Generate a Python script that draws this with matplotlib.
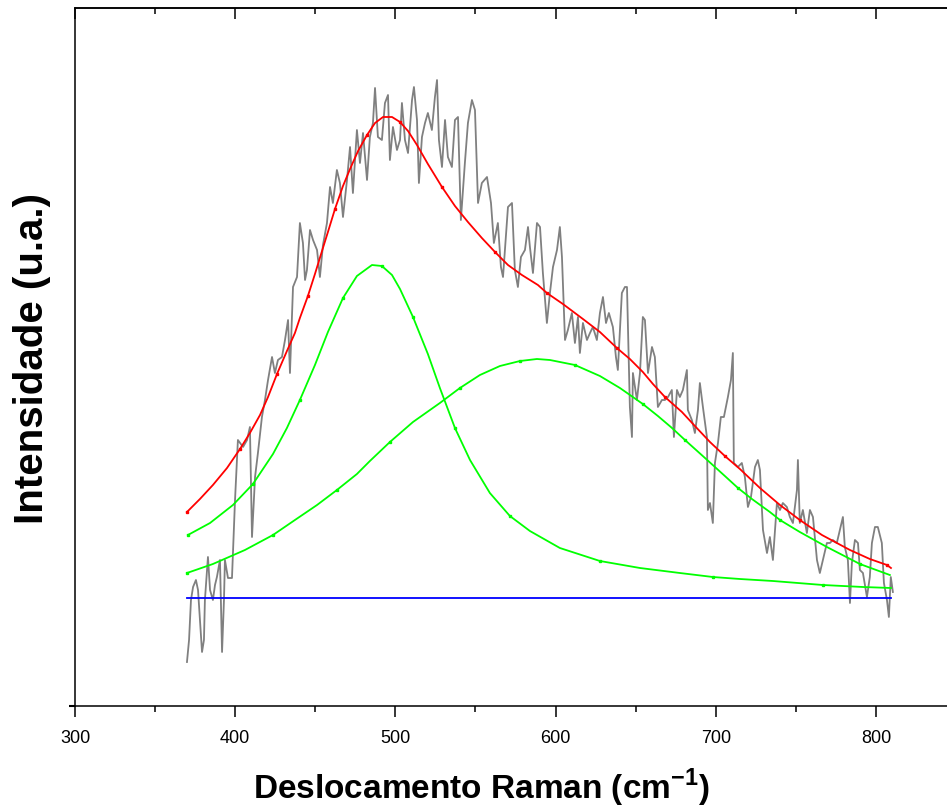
import matplotlib
matplotlib.use("Agg")
import matplotlib.pyplot as plt
from matplotlib.ticker import MultipleLocator

plt.rcParams['font.family'] = ['Liberation Sans', 'DejaVu Sans']
plt.rcParams['mathtext.fontset'] = 'custom'
plt.rcParams['mathtext.rm'] = 'Liberation Sans'
plt.rcParams['mathtext.bf'] = 'Liberation Sans:bold'

# measured spectrum (cm-1, a.u.)
raman_x = [369.9, 371.2, 372.4, 373.7, 375.5, 376.8, 378.0, 379.3, 380.5, 381.1,
           382.4, 383.0, 384.3, 386.1, 387.4, 388.6, 390.5, 391.8, 393.0, 393.6,
           395.5, 398.0, 399.9, 401.7, 404.9, 407.4, 409.2, 410.5, 412.4, 414.2,
           416.7, 418.6, 420.5, 423.0, 424.8, 426.7, 429.2, 431.1, 433.0, 434.2,
           436.1, 438.6, 440.4, 442.3, 443.6, 444.8, 446.7, 448.6, 451.1, 452.9,
           454.8, 457.3, 459.2, 461.0, 463.5, 465.4, 467.3, 469.8, 471.7, 473.5,
           476.0, 477.9, 479.8, 482.3, 484.1, 486.0, 487.3, 489.1, 491.6, 493.5,
           495.4, 496.6, 498.5, 501.0, 502.9, 504.1, 506.0, 507.9, 510.4, 511.6,
           513.5, 514.7, 516.6, 518.5, 520.3, 522.8, 524.7, 526.0, 527.2, 529.1,
           531.0, 532.8, 535.3, 537.2, 539.1, 540.9, 543.4, 545.3, 547.8, 549.7,
           551.6, 554.0, 557.2, 559.7, 561.5, 564.0, 565.9, 567.2, 570.3, 572.8,
           574.6, 576.5, 578.4, 580.9, 582.8, 584.0, 585.9, 588.4, 590.3, 592.1,
           594.6, 596.5, 598.4, 600.9, 602.7, 604.0, 605.9, 607.7, 610.2, 612.1,
           614.0, 615.2, 617.1, 619.6, 621.5, 623.3, 625.8, 627.7, 629.6, 631.5,
           633.3, 635.8, 637.7, 638.9, 641.4, 643.3, 644.6, 646.4, 647.7, 648.3,
           650.8, 652.7, 654.5, 655.8, 657.7, 660.2, 662.0, 663.9, 666.4, 668.3,
           670.2, 672.6, 673.9, 675.8, 677.6, 679.5, 682.0, 682.6, 685.1, 687.0,
           688.9, 690.1, 692.0, 694.5, 695.1, 696.4, 698.2, 699.5, 701.4, 703.2,
           705.1, 707.6, 709.5, 710.7, 711.3, 713.8, 716.3, 718.2, 720.1, 722.0,
           724.5, 726.3, 727.6, 729.5, 732.0, 733.8, 735.7, 738.2, 740.1, 741.9,
           744.4, 746.3, 748.2, 750.7, 751.3, 752.5, 754.4, 756.9, 758.8, 760.7,
           763.2, 765.0, 766.9, 769.4, 771.3, 773.1, 775.6, 777.5, 779.4, 780.6,
           782.5, 783.8, 785.0, 786.9, 788.8, 790.0, 791.9, 794.4, 796.2, 797.5,
           799.4, 801.2, 803.7, 805.0, 806.9, 808.1, 809.3, 810.6]
raman_y = [44, 66, 106, 119, 126, 116, 86, 54, 66, 106,
           136, 149, 116, 106, 121, 129, 146, 54, 106, 146,
           128, 128, 206, 266, 259, 266, 279, 169, 229, 253,
           289, 306, 326, 349, 333, 346, 349, 366, 386, 333,
           419, 429, 483, 463, 426, 436, 476, 466, 456, 429,
           461, 483, 519, 503, 536, 523, 489, 526, 559, 513,
           576, 543, 573, 526, 569, 583, 618, 569, 566, 603,
           611, 546, 579, 556, 566, 603, 566, 553, 606, 619,
           586, 523, 569, 583, 593, 576, 609, 626, 566, 539,
           586, 549, 539, 586, 589, 486, 543, 583, 606, 596,
           503, 523, 529, 503, 463, 483, 439, 429, 499, 503,
           436, 419, 449, 456, 479, 459, 433, 483, 479, 433,
           383, 413, 439, 456, 479, 449, 366, 376, 393, 363,
           389, 353, 383, 366, 373, 379, 366, 393, 409, 383,
           393, 379, 349, 336, 413, 419, 419, 299, 269, 333,
           306, 333, 389, 386, 333, 359, 349, 299, 306, 306,
           309, 316, 269, 316, 309, 316, 336, 296, 286, 273,
           296, 323, 299, 269, 196, 203, 183, 243, 263, 289,
           289, 309, 326, 353, 243, 239, 243, 229, 199, 209,
           239, 246, 236, 176, 153, 169, 146, 203, 196, 203,
           199, 189, 183, 216, 246, 183, 196, 173, 196, 189,
           146, 133, 146, 163, 163, 166, 163, 176, 189, 159,
           146, 103, 143, 166, 163, 136, 133, 109, 129, 163,
           179, 179, 163, 123, 106, 89, 129, 114]

# cumulative fit
fit_x = [369.9, 378.0, 386.1, 394.9, 403.0, 409.2, 415.5, 420.5, 426.1, 432.3,
         437.3, 440.4, 445.4, 449.8, 454.2, 457.9, 462.3, 467.3, 471.7, 476.7,
         482.3, 487.3, 492.3, 497.9, 502.9, 507.9, 513.5, 520.3, 529.1, 537.2,
         545.3, 554.0, 562.2, 570.3, 579.0, 589.0, 594.6, 604.6, 617.1, 627.7,
         638.3, 646.4, 654.5, 660.8, 668.3, 678.9, 687.0, 696.4, 705.7, 715.1,
         727.6, 740.1, 752.5, 766.3, 783.8, 796.2, 806.9, 809.4]
fit_y = [194, 207, 221, 238, 257, 273, 291, 309, 332, 355,
         373, 388, 410, 432, 455, 474, 497, 520, 537, 555,
         571, 583, 589, 589, 584, 575, 561, 542, 519, 500,
         484, 468, 454, 441, 431, 421, 413, 402, 387, 374,
         358, 347, 334, 322, 309, 294, 280, 264, 250, 237,
         218, 201, 186, 171, 156, 147, 141, 138]

# component peak 1
peak1_x = [370.5, 384.3, 398.6, 411.1, 423.6, 432.3, 440.4, 449.8, 457.9, 467.3,
           476.0, 485.4, 491.6, 497.9, 502.9, 511.0, 520.3, 527.8, 537.2, 546.6,
           559.0, 571.5, 584.0, 602.7, 627.7, 652.7, 677.6, 698.2, 715.1, 735.7,
           766.9, 791.9, 809.4]
peak1_y = [171, 183, 201, 222, 252, 278, 306, 341, 374, 408,
           430, 441, 440, 431, 417, 389, 352, 318, 278, 246,
           213, 190, 175, 158, 145, 138, 133, 129, 127, 125,
           121, 119, 118]

# component peak 2
peak2_x = [369.9, 386.1, 406.1, 423.6, 437.3, 451.1, 463.5, 476.0, 484.1, 496.6,
           511.0, 527.8, 540.3, 552.8, 565.3, 577.8, 588.4, 596.5, 612.1, 627.7,
           640.2, 654.5, 663.9, 672.7, 680.8, 693.3, 705.7, 713.9, 722.6, 733.8,
           740.1, 752.5, 769.4, 790.0, 808.7]
peak2_y = [133, 142, 156, 171, 186, 201, 216, 232, 245, 264,
           284, 303, 318, 331, 340, 345, 347, 346, 341, 330,
           318, 302, 290, 278, 266, 248, 230, 218, 207, 194,
           186, 174, 159, 142, 131]

base_x = [369.9, 809.4]
base_y = [108, 108]

fig = plt.figure(figsize=(9.47, 8.11), dpi=100)
ax = fig.add_axes([75 / 947, 105 / 811, 881 / 947, 698 / 811])

ax.plot(raman_x, raman_y, color='#808080', lw=1.3, zorder=1)
ax.plot(base_x, base_y, color='#0000ff', lw=1.3, zorder=2)
ax.plot(peak2_x, peak2_y, color='#00ff00', lw=1.3, marker='s', ms=1.8,
        markevery=3, zorder=3)
ax.plot(peak1_x, peak1_y, color='#00ff00', lw=1.3, marker='s', ms=1.8,
        markevery=3, zorder=3)
ax.plot(fit_x, fit_y, color='#ff0000', lw=1.3, marker='s', ms=1.8,
        markevery=4, zorder=4)

ax.set_xlim(300, 850)
ax.set_ylim(0, 698)

for s in ax.spines.values():
    s.set_linewidth(1.1)

ax.xaxis.set_major_locator(MultipleLocator(100))
ax.xaxis.set_minor_locator(MultipleLocator(50))
ax.tick_params(axis='x', which='major', direction='out', length=8, width=1.1,
               labelsize=13, pad=9)
ax.tick_params(axis='x', which='minor', direction='out', length=4, width=1.1)
ax.set_yticks([0])
ax.set_yticklabels([])
ax.tick_params(axis='y', which='major', direction='out', length=4, width=1.5)

top = ax.secondary_xaxis('top')
top.xaxis.set_major_locator(MultipleLocator(100))
top.xaxis.set_minor_locator(MultipleLocator(50))
top.tick_params(which='major', direction='in', length=8, width=1.1, labeltop=False)
top.tick_params(which='minor', direction='in', length=4, width=1.1)
top.spines['top'].set_linewidth(1.1)

fig.text(481 / 947, 1 - 788 / 811, r'Deslocamento Raman (cm$^{\mathbf{-1}}$)',
         fontsize=24, fontweight='bold', ha='center', va='center')
fig.text(32 / 947, 1 - 358 / 811, 'Intensidade (u.a.)', fontsize=29,
         fontweight='bold', rotation=90, ha='center', va='center')

fig.savefig('out.png', dpi=100)
